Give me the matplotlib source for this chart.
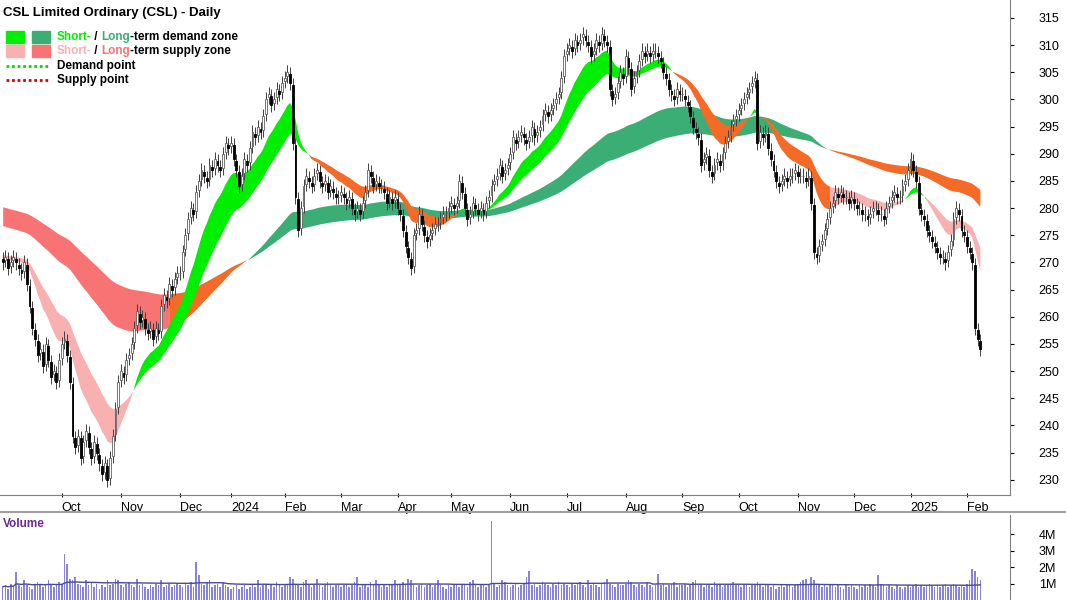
import matplotlib
matplotlib.use("Agg")
import matplotlib.pyplot as plt
import matplotlib.patches as mpatches
import numpy as np
import pandas as pd

# lead-in closes (Mar-Aug 2023), only used to seed the averages
warmup = [290,291,289,292,293,291,290,292,293,291,292,290,289,291,292,290,289,291,290,292,
          291,289,290,292,291,289,288,290,291,289,290,288,289,291,290,288,287,289,290,288,
          289,287,286,288,287,285,286,288,287,285,284,286,285,283,284,286,285,283,282,284,
          283,282,284,283,281,280,282,283,281,280,279,281,280,278,279,280,278,277,279,278,
          276,275,274,275,273,272,274,273,271,272,270,271,272,270,269,271,272,270,271,269,
          270,272,271,269,270,271,270,272,271,269,270,271,270,269,271,270,272,271,270,271]

sep23 = [270,271,269,270,271,270,269,268,270,266,262,258,256,253,254,251,255,252,249,250,248,252]
oct23 = [255,256,253,248,238,236,238,234,237,239,236,234,237,235,233,231,233,230,234,238,243,248]
nov23 = [250,249,252,253,255,258,261,259,260,258,257,258,256,258,257,262,264,263,266,265,267,268]
dec23 = [268,272,275,278,280,279,283,285,287,286,285,288,287,289,288,287,290,292,291]
jan24 = [292,289,287,284,286,289,288,291,294,293,295,294,297,300,301,299,300,302,301,303]
feb24 = [304,305,303,292,282,276,280,284,286,285,284,286,287,285,284,285,283,284,283,282,282]
mar24 = [283,282,281,282,280,279,280,279,281,283,287,286,284,285,284,284,283,281,282,281,282]
apr24 = [280,279,276,273,271,269,275,276,279,277,275,274,275,276,277,277,278,279,279,280]
may24 = [281,280,281,285,283,280,278,279,281,280,279,280,279,281,282,284,285,286,288,286,287,288]
jun24 = [290,293,292,293,294,293,292,293,295,293,294,295,297,298,297,298,299,300,301,304,308]
jul24 = [309,310,309,311,310,311,312,311,310,308,309,311,310,312,311,310,302,300,301,303,305,304]
aug24 = [308,306,302,304,305,307,309,308,309,308,309,309,308,307,305,304,302,301,300,302,301]
sep24 = [301,300,299,297,295,294,293,288,289,290,287,286,288,289,288,290,292,293,295,296,297]
oct24 = [298,299,300,301,302,303,304,292,294,293,294,291,289,287,285,284,285,286,285,286,286,287]
nov24 = [286,286,286,285,286,281,272,271,273,274,276,278,280,281,283,282,283,282,282,281,282]
dec24 = [281,280,280,279,279,278,279,280,280,279,279,278,280,281,282,283,282,282,284,285,287]
jan25 = [289,287,285,280,279,278,276,275,274,273,272,271,271,270,272,274,278,280,279,276,275]
feb25 = [273,272,270,258,256,254]

months = [sep23, oct23, nov23, dec23, jan24, feb24, mar24, apr24, may24, jun24,
          jul24, aug24, sep24, oct24, nov24, dec24, jan25, feb25]
month_labels = ["", "Oct", "Nov", "Dec", "2024", "Feb", "Mar", "Apr", "May", "Jun",
                "Jul", "Aug", "Sep", "Oct", "Nov", "Dec", "2025", "Feb"]

# volume in 100k shares
vol_months = [
    [8,9,7,10,8,17,9,8,12,9,8,7,10,11,9,8,9,12,10,8,9,11],
    [10,28,22,13,12,14,10,9,8,12,9,11,8,10,7,9,8,12,9,10,13,12],
    [9,8,10,11,9,8,13,9,10,8,7,9,8,10,9,12,8,9,10,8,9,10],
    [9,8,10,9,11,8,23,15,10,9,11,12,8,9,10,8,11,9,8],
    [7,8,9,7,8,9,7,8,10,8,12,8,9,10,7,9,8,11,9,8],
    [9,10,14,13,10,9,8,11,12,9,8,10,13,9,8,9,11,10,8,9,10],
    [8,9,10,8,9,11,14,8,10,9,8,11,9,12,10,8,9,8,10,9,12],
    [9,10,11,9,13,12,10,8,9,10,8,9,10,8,9,12,9,8,7,9],
    [8,9,10,8,9,10,8,11,12,9,8,9,10,8,9,48,10,8,9,12,11,9],
    [8,9,10,8,9,10,14,18,9,10,8,9,11,10,9,8,10,9,11,9,10],
    [9,8,10,9,10,11,9,8,12,9,10,9,8,10,11,13,10,9,8,10,9,9],
    [10,12,11,9,8,10,9,8,11,9,8,9,16,9,10,8,9,10,11,8,9],
    [9,10,8,9,11,12,9,10,8,9,10,8,11,9,10,8,9,10,9,11,10],
    [9,8,10,9,8,9,10,11,9,8,10,9,8,9,7,8,9,8,10,9,8,9],
    [10,11,12,13,9,14,12,10,9,8,9,8,10,9,8,9,8,7,9,8,9],
    [8,7,9,8,9,8,10,9,8,15,10,9,8,9,8,7,9,8,7,8,9],
    [8,9,10,8,9,8,9,10,9,8,9,8,9,10,8,9,10,9,8,9,8],
    [10,12,19,18,14,12],
]

closes_vis = np.array([c for m in months for c in m], dtype=float)
volume = np.array([v for m in vol_months for v in m], dtype=float) * 1e5
n = len(closes_vis)
volume = volume[:n]

allc = pd.Series(warmup + list(closes_vis))
def ema(s, span):
    return s.ewm(span=span, adjust=False).mean().values[-n:]
s_fast, s_slow = ema(allc, 15), ema(allc, 30)
l_fast, l_slow = ema(allc, 90), ema(allc, 150)

opens = np.r_[warmup[-1], closes_vis[:-1]]
opens = opens + np.sign(closes_vis - opens) * 0.4
highs = np.maximum(opens, closes_vis) + 1.3
lows = np.minimum(opens, closes_vis) - 1.3

x = np.arange(n)
GREEN_S, GREEN_L = "#00ee00", "#3aae74"
PINK_S, RED_L, ORANGE = "#f9b0b0", "#f87474", "#f46a26"

fig = plt.figure(figsize=(10.66, 6.0), dpi=100)
plt.rcParams['font.family'] = ['Liberation Sans', 'DejaVu Sans']
ax = fig.add_axes([0.0, 0.175, 0.947, 0.825])
axv = fig.add_axes([0.0, 0.0, 0.947, 0.142])

# zone colours
long_up = l_fast > l_slow
recent_above = np.array([np.any(closes_vis[max(0, i - 70):i + 1] > l_slow[max(0, i - 70):i + 1]) for i in range(n)])
recent_above[:40] = False
long_col = np.where(long_up, "g", np.where(recent_above, "o", "r"))
short_up = s_fast > s_slow
short_col = np.where(short_up, "g", np.where(long_up, "o", "p"))

def band(lo, hi, cols, cmap):
    for key, c in cmap.items():
        m = cols == key
        m2 = m.copy()
        m2[1:] |= m[:-1]
        ax.fill_between(x, lo, hi, where=m2, color=c, lw=0, zorder=1)

band(l_fast, l_slow, long_col, {"g": GREEN_L, "o": ORANGE, "r": RED_L})
band(s_fast, s_slow, short_col, {"g": GREEN_S, "o": ORANGE, "p": PINK_S})

up = closes_vis >= opens
ax.vlines(x, lows, highs, color="#404040", lw=0.7, zorder=2)
ax.bar(x[up], closes_vis[up] - opens[up], bottom=opens[up], width=0.7,
       color="white", edgecolor="#606060", lw=0.6, zorder=3)
ax.bar(x[~up], opens[~up] - closes_vis[~up], bottom=closes_vis[~up], width=0.7,
       color="black", edgecolor="black", lw=0.6, zorder=3)

ax.set_xlim(-1, n * 1.027)
ax.set_ylim(227.2, 318.3)
ax.yaxis.tick_right()
ax.set_yticks(np.arange(230, 316, 5))
ax.tick_params(axis="y", labelsize=9, length=3, direction="out", pad=18)
starts = np.cumsum([0] + [len(m) for m in months[:-1]])
ax.set_xticks(starts[1:])
ax.set_xticklabels(month_labels[1:], ha="left")
ax.tick_params(axis="x", labelsize=9, length=3, direction="inout")
for sp in ["top", "left"]:
    ax.spines[sp].set_visible(False)
ax.spines["right"].set_color("#808080")
ax.spines["bottom"].set_color("#808080")

ax.text(0.003, 0.985, "CSL Limited Ordinary (CSL) - Daily", transform=ax.transAxes,
        fontsize=9.5, fontweight="bold", va="top")
leg = [(GREEN_S, GREEN_L, ["Short-", " / ", "Long", "-term demand zone"], [GREEN_S, "black", GREEN_L, "black"]),
       (PINK_S, RED_L, ["Short-", " / ", "Long", "-term supply zone"], [PINK_S, "black", RED_L, "black"])]
for i, (c1, c2, parts, cols) in enumerate(leg):
    yy = 0.925 - i * 0.029
    ax.add_patch(mpatches.Rectangle((0.006, yy - 0.011), 0.018, 0.024, transform=ax.transAxes, color=c1))
    ax.add_patch(mpatches.Rectangle((0.032, yy - 0.011), 0.018, 0.024, transform=ax.transAxes, color=c2))
    t = ax.text(0.056, yy, parts[0], transform=ax.transAxes, color=cols[0], fontsize=8.5,
                fontweight="bold", va="center")
    for p, c in zip(parts[1:], cols[1:]):
        t = ax.annotate(p, xycoords=t, xy=(1, 0.5), va="center", color=c, fontsize=8.5, fontweight="bold")
for i, (c, lab) in enumerate([("#00dd00", "Demand point"), ("#dd0000", "Supply point")]):
    yy = 0.867 - i * 0.029
    ax.plot([0.006, 0.05], [yy, yy], transform=ax.transAxes, color=c, ls=(0, (1, 1)), lw=2)
    ax.text(0.056, yy, lab, transform=ax.transAxes, fontsize=8.5, fontweight="bold", va="center")

# volume
axv.bar(x, volume, width=0.6, color="#8a84d8", zorder=2)
vavg = pd.Series(volume).rolling(60, min_periods=1).mean().values
axv.plot(x, vavg, color="#4a4a9a", lw=1)
axv.set_xlim(-1, n * 1.027)
axv.set_ylim(0, 5.2e6)
axv.yaxis.tick_right()
axv.set_yticks([1e6, 2e6, 3e6, 4e6])
axv.set_yticklabels(["1M", "2M", "3M", "4M"])
axv.tick_params(axis="y", labelsize=9, length=3, pad=18)
axv.set_xticks([])
for sp in ["top", "left", "bottom"]:
    axv.spines[sp].set_visible(False)
axv.spines["right"].set_color("#808080")
axv.text(0.003, 0.96, "Volume", transform=axv.transAxes, color="#6a2a9a", fontsize=8.5,
         fontweight="bold", va="top")
fig.add_artist(plt.Line2D([0, 1], [0.147, 0.147], color="#a0a0a0", lw=1.5))

fig.savefig("out.png", dpi=100)
